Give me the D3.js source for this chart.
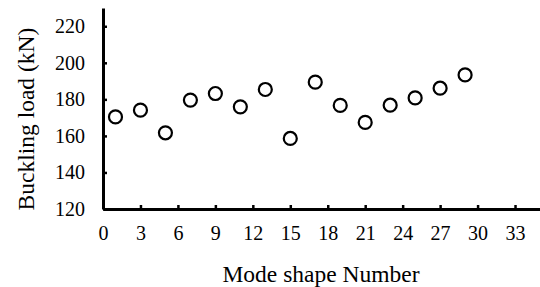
<!DOCTYPE html>
<html>
<head>
<meta charset="utf-8">
<script src="https://cdn.jsdelivr.net/npm/d3@7"></script>
<style>
  body { margin: 0; background: #fff; }
  text { font-family: "Liberation Serif", "Times New Roman", serif; fill: #000; }
</style>
</head>
<body>
<div id="chart"></div>
<script>
// mode shapes and their buckling loads
const modeNumbers = [1, 3, 5, 7, 9, 11, 13, 15, 17, 19, 21, 23, 25, 27, 29];
const bucklingLoads = [170.4, 174.1, 161.7, 179.6, 183.2, 175.9, 185.4, 158.6, 189.4, 176.7, 167.4, 176.8, 180.8, 186.1, 193.4];

const xTicks = [0, 3, 6, 9, 12, 15, 18, 21, 24, 27, 30, 33];
const yTicks = [120, 140, 160, 180, 200, 220];

const width = 540;
const height = 287;
const margin = { left: 103, right: 0, top: 8, bottom: 78 };

const svg = d3.select("#chart")
    .append("svg")
    .attr("width", width)
    .attr("height", height);

const x = d3.scaleLinear()
    .domain([0, 35])
    .range([margin.left, width - margin.right]);

const y = d3.scaleLinear()
    .domain([120, 230])
    .range([height - margin.bottom, margin.top]);

// x axis, ticks pointing inward
const xAxis = svg.append("g")
    .attr("transform", `translate(0,${y(120)})`)
    .call(d3.axisBottom(x).tickValues(xTicks).tickSizeInner(-4).tickSizeOuter(0).tickPadding(17));

// y axis
const yAxis = svg.append("g")
    .attr("transform", `translate(${x(0)},0)`)
    .call(d3.axisLeft(y).tickValues(yTicks).tickSizeInner(-4).tickSizeOuter(0).tickPadding(18));

[xAxis, yAxis].forEach(g => {
    g.select(".domain").attr("stroke", "#000").attr("stroke-width", 3);
    g.selectAll(".tick line").attr("stroke", "#000").attr("stroke-width", 2.5);
    g.selectAll(".tick text")
        .style("font-family", "'Liberation Serif', serif")
        .style("font-size", "20px");
});

// points
svg.append("g")
    .selectAll("circle")
    .data(modeNumbers)
    .enter().append("circle")
    .attr("cx", d => x(d))
    .attr("cy", (d, i) => y(bucklingLoads[i]))
    .attr("r", 6.5)
    .attr("fill", "#fff")
    .attr("stroke", "#000")
    .attr("stroke-width", 2.2);

// axis titles
svg.append("text")
    .attr("x", 321)
    .attr("y", 282)
    .attr("text-anchor", "middle")
    .style("font-size", "23.5px")
    .text("Mode shape Number");

svg.append("text")
    .attr("transform", `translate(34,119) rotate(-90)`)
    .attr("text-anchor", "middle")
    .style("font-size", "23.5px")
    .text("Buckling load (kN)");
</script>
</body>
</html>
